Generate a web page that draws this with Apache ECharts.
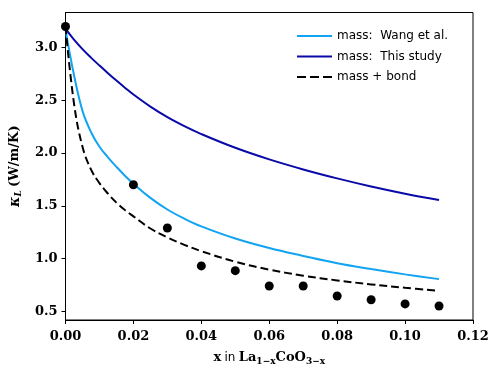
<!DOCTYPE html>
<html>
<head>
<meta charset="utf-8">
<script src="https://cdn.jsdelivr.net/npm/echarts@6/dist/echarts.min.js"></script>
<style>
  html, body { margin: 0; padding: 0; background: #fff; }
  #chart { width: 498px; height: 371px; }
</style>
</head>
<body>
<div id="chart"></div>
<script>
// x positions of the model curves
const curveX = [0, 0.0025, 0.005, 0.0075, 0.01, 0.0125, 0.015, 0.0175, 0.02, 0.025, 0.03, 0.035, 0.04, 0.05, 0.06, 0.07, 0.08, 0.09, 0.10, 0.11];
// mass: Wang et al.
const wangMass = [3.17, 2.74, 2.40, 2.20, 2.06, 1.96, 1.87, 1.785, 1.71, 1.575, 1.465, 1.378, 1.305, 1.19, 1.10, 1.025, 0.955, 0.90, 0.85, 0.805];
// mass: This study
const studyMass = [3.18, 3.075, 2.985, 2.905, 2.83, 2.757, 2.687, 2.62, 2.555, 2.44, 2.34, 2.255, 2.18, 2.05, 1.94, 1.845, 1.76, 1.683, 1.615, 1.555];
// mass + bond
const massBond = [3.20, 2.47, 2.06, 1.845, 1.715, 1.615, 1.53, 1.46, 1.40, 1.285, 1.20, 1.13, 1.07, 0.97, 0.895, 0.838, 0.793, 0.755, 0.723, 0.695];

// measured points
const expX = [0, 0.02, 0.03, 0.04, 0.05, 0.06, 0.07, 0.08, 0.09, 0.10, 0.11];
const expY = [3.20, 1.70, 1.29, 0.93, 0.885, 0.74, 0.74, 0.645, 0.61, 0.57, 0.55];

const yTicks = [0.5, 1.0, 1.5, 2.0, 2.5, 3.0];

const zip = (xs, ys) => xs.map((x, i) => [x, ys[i]]);

const chart = echarts.init(document.getElementById('chart'));

const tickFont = {
  color: '#000',
  fontFamily: 'DejaVu Serif',
  fontWeight: 'bold',
  fontSize: 13
};

// legend keys drawn as plain strokes
const solidKey = 'path://M0,0h35v2.2h-35z';
const dashKey = 'path://M0,0h9v2.2h-9z M13,0h9v2.2h-9z M26,0h9v2.2h-9z';

const option = {
  animation: false,
  grid: {
    left: 60.5, right: 25, top: 12.5, bottom: 51,
    show: true, borderColor: '#000', borderWidth: 1
  },
  legend: {
    left: 292, top: 25,
    orient: 'vertical',
    itemGap: 8.5,
    itemWidth: 35,
    itemHeight: 14,
    textStyle: { fontFamily: 'DejaVu Sans', fontSize: 12, color: '#000' },
    data: [
      { name: 'mass:  Wang et al.', icon: solidKey },
      { name: 'mass:  This study', icon: solidKey },
      { name: 'mass + bond', icon: dashKey }
    ]
  },
  xAxis: {
    type: 'value',
    min: 0, max: 0.12, interval: 0.02,
    splitLine: { show: false },
    axisLine: { lineStyle: { color: '#000' } },
    axisTick: { length: 4, lineStyle: { color: '#000' } },
    axisLabel: Object.assign({ margin: 10, formatter: v => v.toFixed(2) }, tickFont),
    name: '{b|x} {s|in} {b|La}{sub|1−x}{b|CoO}{sub|3−x}',
    nameLocation: 'middle',
    nameGap: 29,
    nameTextStyle: {
      rich: {
        b: { fontFamily: 'DejaVu Serif', fontWeight: 'bold', fontSize: 13, color: '#000' },
        s: { fontFamily: 'DejaVu Sans', fontSize: 12, color: '#000' },
        sub: { fontFamily: 'DejaVu Serif', fontWeight: 'bold', fontSize: 9, color: '#000', verticalAlign: 'bottom', padding: [8, 0, 0, 0] }
      }
    }
  },
  yAxis: {
    type: 'value',
    min: 0.4175, max: 3.3325,
    splitLine: { show: false },
    axisLine: { lineStyle: { color: '#000' } },
    axisTick: { length: 4, lineStyle: { color: '#000' }, customValues: yTicks },
    axisLabel: Object.assign({ margin: 8, customValues: yTicks, formatter: v => v.toFixed(1) }, tickFont),
    name: '{k|κ}{sub|L} {b|(W/m/K)}',
    nameLocation: 'middle',
    nameGap: 42,
    nameTextStyle: {
      rich: {
        k: { fontFamily: 'DejaVu Serif', fontStyle: 'italic', fontWeight: 'bold', fontSize: 14, color: '#000' },
        sub: { fontFamily: 'DejaVu Serif', fontStyle: 'italic', fontWeight: 'bold', fontSize: 9, color: '#000', padding: [8, 0, 0, 0] },
        b: { fontFamily: 'DejaVu Serif', fontWeight: 'bold', fontSize: 13, color: '#000' }
      }
    }
  },
  series: [
    {
      name: 'data', type: 'scatter',
      data: zip(expX, expY),
      symbolSize: 9,
      itemStyle: { color: '#000', opacity: 1 },
      z: 3
    },
    {
      name: 'mass:  Wang et al.', type: 'line',
      data: zip(curveX, wangMass),
      smooth: 0.4, showSymbol: false, symbol: 'none',
      lineStyle: { color: '#12a4f0', width: 2 },
      itemStyle: { color: '#12a4f0' }
    },
    {
      name: 'mass:  This study', type: 'line',
      data: zip(curveX, studyMass),
      smooth: 0.4, showSymbol: false, symbol: 'none',
      lineStyle: { color: '#0a0aa8', width: 2 },
      itemStyle: { color: '#0a0aa8' }
    },
    {
      name: 'mass + bond', type: 'line',
      data: zip(curveX, massBond),
      smooth: 0.4, showSymbol: false, symbol: 'none',
      lineStyle: { color: '#000', width: 2, type: [8, 4] },
      itemStyle: { color: '#000' }
    }
  ]
};

chart.setOption(option);
</script>
</body>
</html>
